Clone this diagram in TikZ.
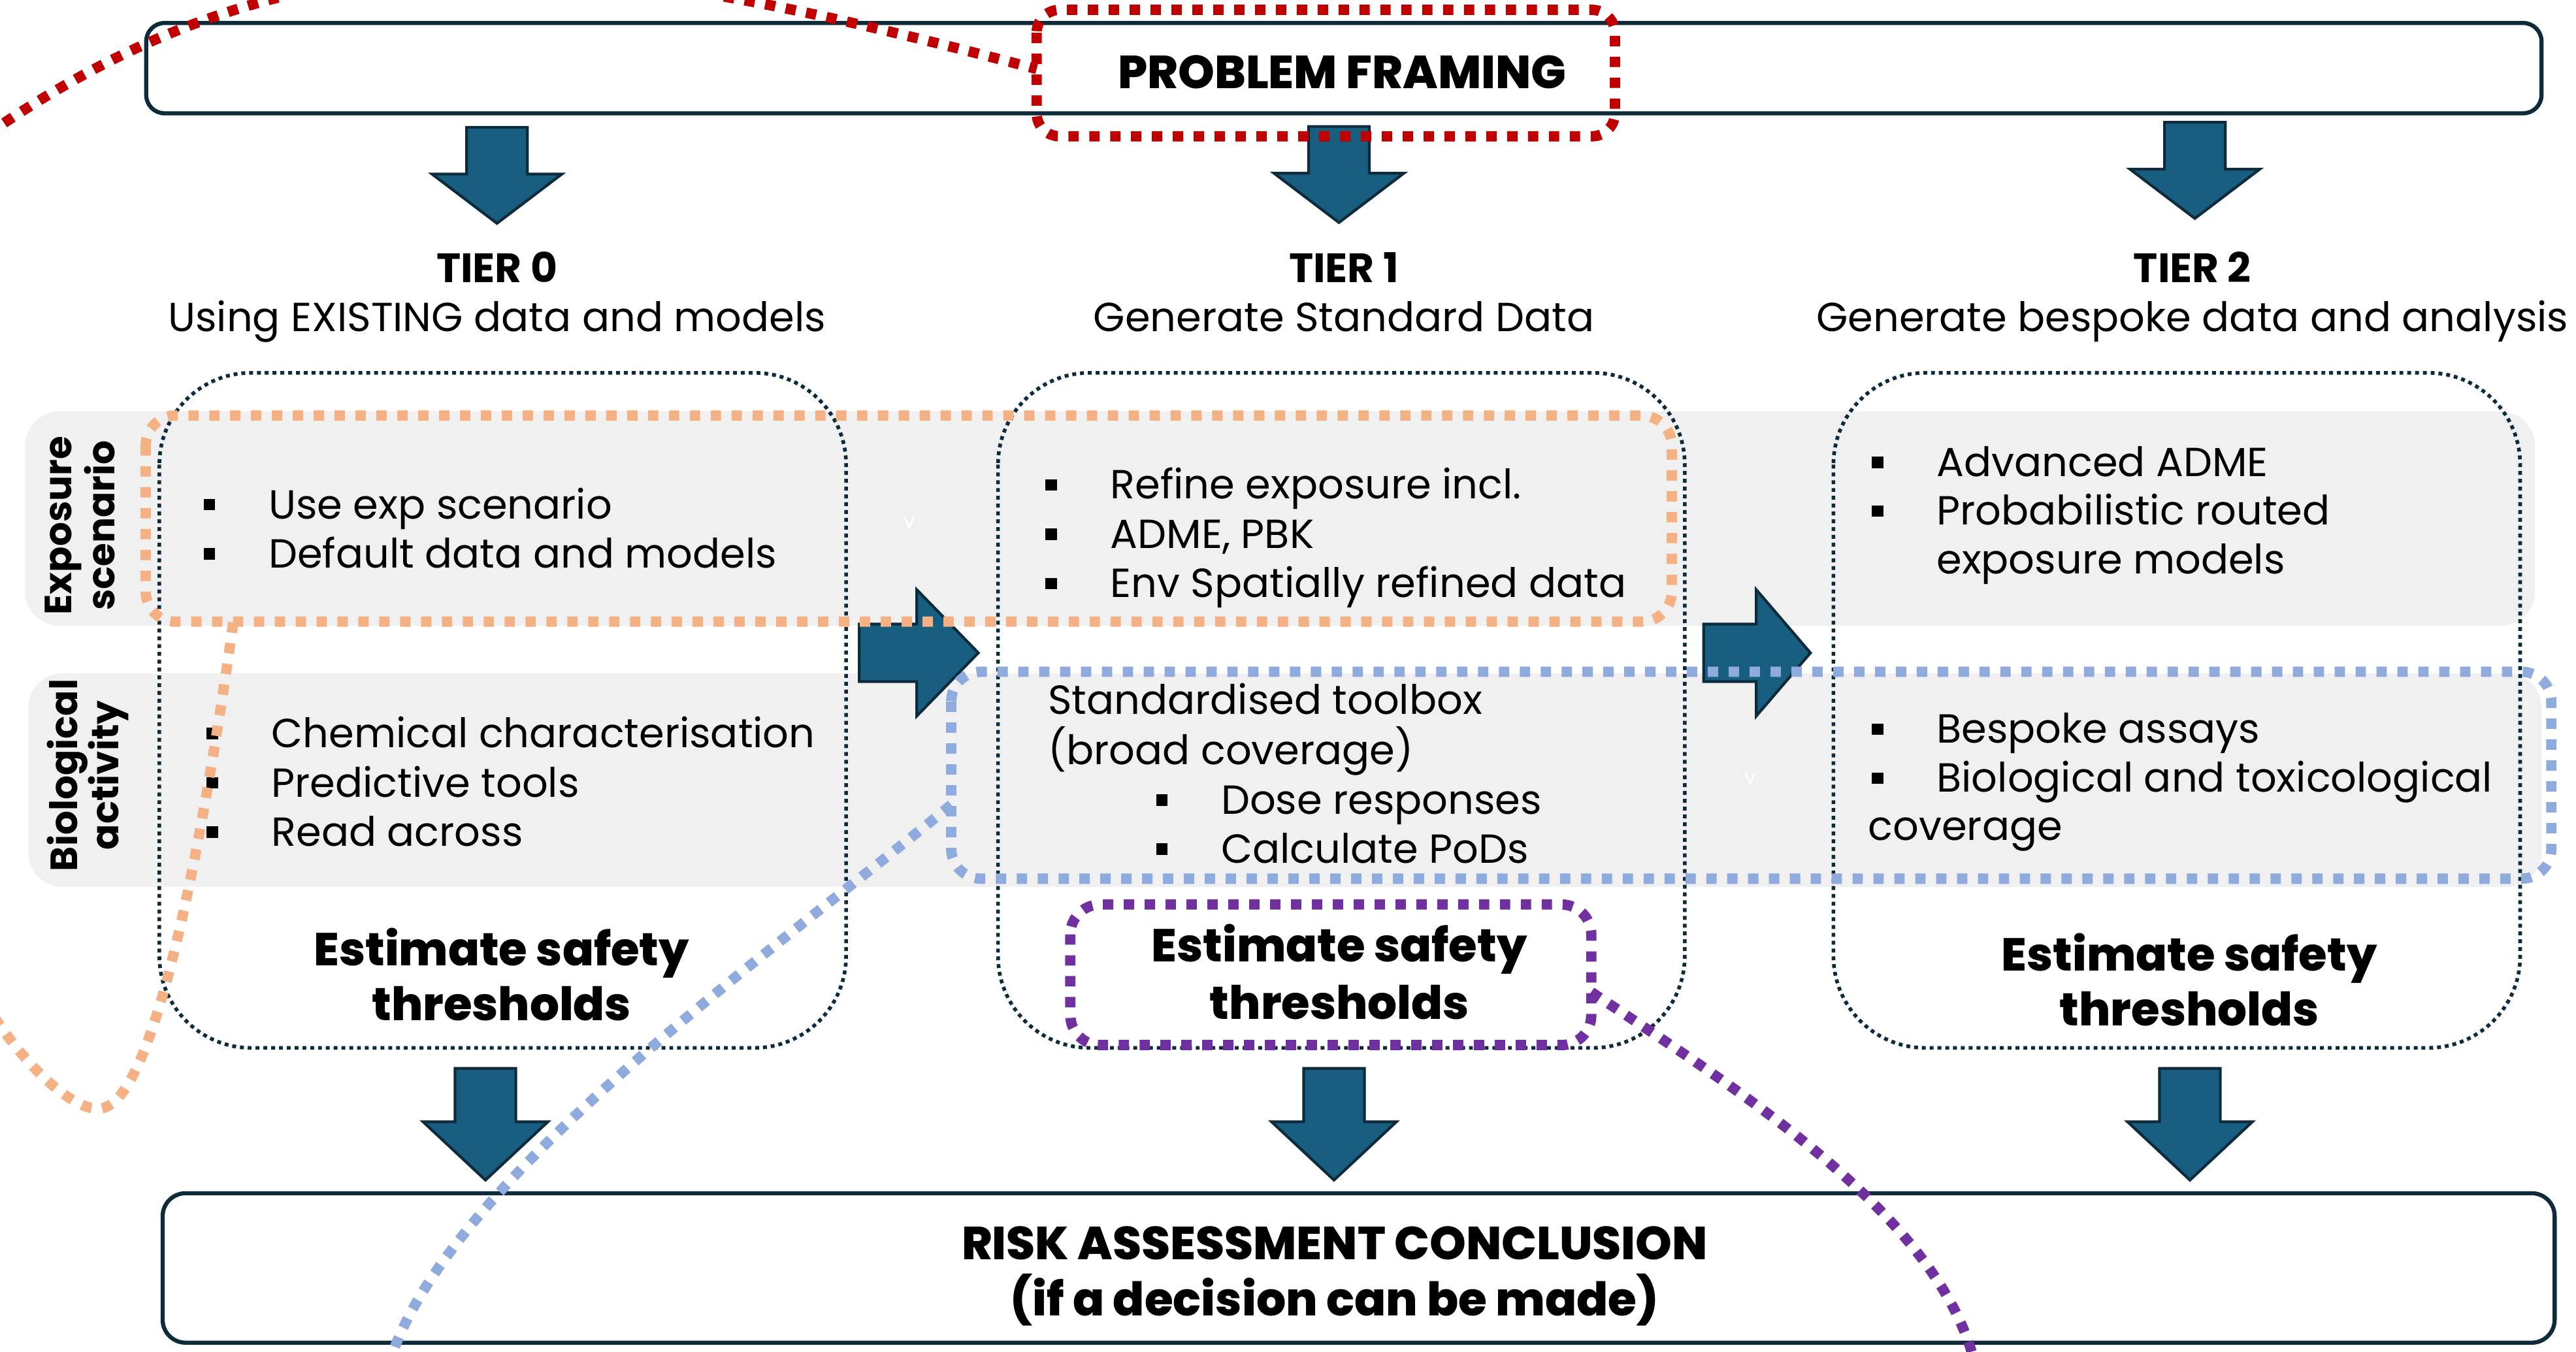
\documentclass[tikz,border=0pt]{standalone}
\usepackage{fontspec}
\setmainfont{Poppins}
\newfontfamily\heavyfont{Poppins ExtraBold}
\usepackage{tikz}
\usetikzlibrary{shapes,arrows,positioning}

\definecolor{navy}{HTML}{0D2B3B}
\definecolor{arrowblue}{HTML}{185E80}
\definecolor{bandgrey}{HTML}{F0F0F0}
\definecolor{framered}{HTML}{C00000}
\definecolor{tierorange}{HTML}{F4B183}
\definecolor{toolblue}{HTML}{8FAADC}
\definecolor{safepurple}{HTML}{7030A0}

\newcommand{\sqbullet}{\llap{\raisebox{3.6pt}{\rule{5pt}{5pt}}\hspace{23.3pt}}}

\tikzset{
	band/.style={fill=bandgrey, rounded corners=15pt},
	tierbox/.style={draw=navy, line width=1.6pt, dash pattern=on 1.7pt off 1.7pt, rounded corners=40pt},
	mainbox/.style={draw=navy, line width=1.8pt, rounded corners=8pt},
	blockarrow/.style={fill=arrowblue, draw=navy, line width=1.2pt},
	item/.style={inner sep=0pt, anchor=base west, font=\fontsize{17.7pt}{21.5pt}\selectfont},
	tiersub/.style={inner sep=0pt, anchor=base, font=\fontsize{17.7pt}{21.5pt}\selectfont},
	tiertitle/.style={inner sep=0pt, anchor=base, font=\bfseries\fontsize{17.9pt}{21.5pt}\selectfont},
	safety/.style={inner sep=0pt, anchor=base, font=\heavyfont\fontsize{20.1pt}{24pt}\selectfont},
	bigtitle/.style={inner sep=0pt, anchor=base, font=\heavyfont\fontsize{20.2pt}{24pt}\selectfont},
	sidelabel/.style={inner sep=0pt, anchor=base, rotate=90, font=\bfseries\fontsize{16.5pt}{18pt}\selectfont},
	highlight/.style={line width=4.5pt, dash pattern=on 4.5pt off 4.6pt},
	redmark/.style={highlight, draw=framered},
	orangemark/.style={highlight, draw=tierorange},
	bluemark/.style={highlight, draw=toolblue},
	purplemark/.style={highlight, draw=safepurple}
}

\begin{document}
\begin{tikzpicture}[x=0.025147cm, y=-0.025147cm]
				\useasboundingbox (0,0) rectangle (1568,823);
				\clip (0,0) rectangle (1568,823);

				% grey rows
				\fill [band] (15.3,250.5) rectangle (1543,381);
				\fill [band] (17.2,410) rectangle (1547,540);

				% tier boxes
				\foreach \x in {97,607.5,1116}
					\draw [tierbox] (\x,227) rectangle ++(418,411);

				% top and bottom boxes
				\draw [mainbox] (89,14) rectangle (1547,69);
				\draw [mainbox, rounded corners=10pt] (99,726.5) rectangle (1555,817.5);
				\node [bigtitle] (framing) at (817,54) {PROBLEM FRAMING};
				\node [bigtitle] (risk) at (812.4,767) {RISK ASSESSMENT CONCLUSION};
				\node [bigtitle] (decision) at (812.4,801) {(if a decision can be made)};

				% block arrows down
				\foreach \cx/\ty in {302.5/77.5, 815/77, 1336/74.5}
					\draw [blockarrow] (\cx-18.5,\ty) -- (\cx+18.5,\ty) -- (\cx+18.5,\ty+28.5) -- (\cx+39.5,\ty+28.5)
						-- (\cx,\ty+58.5) -- (\cx-39.5,\ty+28.5) -- (\cx-18.5,\ty+28.5) -- cycle;
				\foreach \cx in {295.5, 812, 1333}
					\draw [blockarrow] (\cx-18.5,650.5) -- (\cx+18.5,650.5) -- (\cx+18.5,683) -- (\cx+38,683)
						-- (\cx,718.5) -- (\cx-38,683) -- (\cx-18.5,683) -- cycle;
				% block arrows right
				\foreach \sx/\hx/\tx in {523/558/595.5, 1037/1069/1102}
					\draw [blockarrow] (\sx,380) -- (\hx,380) -- (\hx,359) -- (\tx,397.5) -- (\hx,436)
						-- (\hx,415) -- (\sx,415) -- cycle;

				% tier titles
				\foreach \n/\x/\t in {0/302.5/Using EXISTING data and models, 1/818/Generate Standard Data, 2/1334.5/Generate bespoke data and analysis} {
					\node [tiertitle] (tier\n) at (\x,171.8) {TIER \n};
					\node [tiersub] (sub\n) at (\x,202) {\t};
				}

				% row labels
				\node [sidelabel] (expA) at (43.7,320) {Exposure};
				\node [sidelabel] (expB) at (69.6,320) {scenario};
				\node [sidelabel] (bioA) at (47,472) {Biological};
				\node [sidelabel] (bioB) at (72.2,472) {activity};

				% tier 0
				\node [item] (t0e1) at (163.3,315.8) {\sqbullet Use exp scenario};
				\node [item] (t0e2) at (163.3,345.8) {\sqbullet Default data and models};
				\foreach \t [count=\i] in {Chemical characterisation, Predictive tools, Read across}
					\node [item] (t0b\i) at (165,{455.2+30*(\i-1)}) {\sqbullet \t};

				% tier 1
				\foreach \t [count=\i] in {Refine exposure incl., {ADME, PBK}, Env Spatially refined data}
					\node [item] (t1e\i) at (675.6,{303.8+30*(\i-1)}) {\sqbullet \t};
				\node [item] (t1b1) at (637.7,435) {Standardised toolbox};
				\node [item] (t1b2) at (637.7,465.6) {(broad coverage)};
				\node [item] (t1b3) at (743,495.7) {\sqbullet Dose responses};
				\node [item] (t1b4) at (743,525.5) {\sqbullet Calculate PoDs};

				% tier 2
				\node [item] (t2e1) at (1178.6,290) {\sqbullet Advanced ADME};
				\node [item] (t2e2) at (1178.6,319.7) {\sqbullet Probabilistic routed};
				\node [item] (t2e3) at (1178.6,349.2) {exposure models};
				\node [item] (t2b1) at (1178.6,452.5) {\sqbullet Bespoke assays};
				\node [item] (t2b2) at (1178.6,482.3) {\sqbullet Biological and toxicological};
				\node [item] (t2b3) at (1137,511.6) {coverage};

				% stray marks
				\node [inner sep=0pt, text=white, font=\fontsize{9pt}{9pt}\selectfont] (markA) at (553.5,318) {v};
				\node [inner sep=0pt, text=white, font=\fontsize{9pt}{9pt}\selectfont] (markB) at (1065.6,474) {v};

				% safety thresholds
				\foreach \n/\x/\ya/\yb in {0/305.3/588/621.5, 1/815.3/585.5/620.4, 2/1332.6/591/624.6} {
					\node [safety] (safeA\n) at (\x,\ya) {Estimate safety};
					\node [safety] (safeB\n) at (\x,\yb) {thresholds};
				}

				% highlight marks
				\draw [orangemark, rounded corners=13pt] (88.7,253) rectangle (1017.6,378.5);
				\draw [orangemark] (142,379) .. controls (125,500) and (95,675) .. (60,675)
					.. controls (45,676) and (15,650) .. (-8,612);
				\draw [bluemark, rounded corners=13pt] (579,409) rectangle (1553,535);
				\draw [bluemark] (579,490) .. controls (470,580) and (270,720) .. (237,830);
				\draw [purplemark, rounded corners=13pt] (651.5,550.7) rectangle (968.6,636.3);
				\draw [purplemark] (968.6,604) .. controls (1060,665) and (1180,740) .. (1202,830);
				\draw [redmark, rounded corners=10pt] (631,6) rectangle (983,83);
				\draw [redmark] (-8,82) .. controls (190,-55) and (360,-30) .. (631,42);

\end{tikzpicture}
\end{document}
